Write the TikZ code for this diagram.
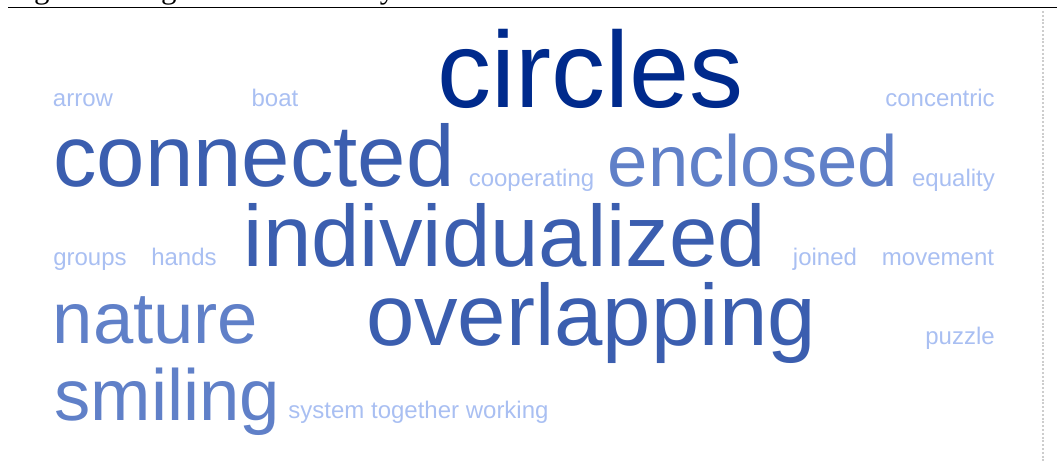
\documentclass[tikz,border=0pt]{standalone}
\usepackage{fontspec}
\setmainfont{Liberation Sans}
\newfontfamily\capfont{Liberation Serif}
\definecolor{cDark}{RGB}{0,42,140}
\definecolor{cMid}{RGB}{59,94,175}
\definecolor{cLight}{RGB}{96,128,200}
\definecolor{cPale}{RGB}{169,191,242}
\definecolor{cDot}{RGB}{205,205,205}
\tikzset{
  word/.style={inner sep=0pt, outer sep=0pt, anchor=base},
  wxl/.style={word, text=cDark, font=\fontsize{108}{108}\selectfont},
  wl/.style={word, text=cMid, font=\fontsize{87}{87}\selectfont},
  wm/.style={word, text=cLight, font=\fontsize{72.5}{72.5}\selectfont},
  ws/.style={word, text=cPale, font=\fontsize{24}{24}\selectfont},
}
\begin{document}
\begin{tikzpicture}[x=1pt,y=-1pt]
\useasboundingbox (0,0) rectangle (1057,461);
\clip (0,0) rectangle (1057,461);
% caption (cut off at top) and rule
\node[inner sep=0pt, anchor=base west, font=\capfont\fontsize{31}{31}\selectfont] (caption) at (8,-2) {Figure 3. Tag Cloud of Weekly Selected Codes};
\coordinate (ruleL) at (8,7.5);
\coordinate (ruleR) at (1057,7.5);
\draw[line width=1.4pt] (ruleL) -- (ruleR);
% dotted frame edge
\coordinate (dotT) at (1043,11);
\coordinate (dotB) at (1043,461);
\draw[cDot, line width=2pt, dash pattern=on 2pt off 1.8pt] (dotT) -- (dotB);
% row 1
\node[ws] (arrow) at (83,106) {arrow};
\node[ws] (boat) at (275,106) {boat};
\node[wxl] (circles) at (590.5,107) {circles};
\node[ws] (concentric) at (940,106) {concentric};
% row 2
\node[wl] (connected) at (254,186) {connected};
\node[ws] (cooperating) at (531.5,186) {cooperating};
\node[wm] (enclosed) at (753,186) {enclosed};
\node[ws] (equality) at (953.5,186) {equality};
% row 3
\node[ws] (groups) at (90,265) {groups};
\node[ws] (hands) at (184,265) {hands};
\node[wl] (individualized) at (505,266) {individualized};
\node[ws] (joined) at (825,265) {joined};
\node[ws] (movement) at (938,265) {movement};
% row 4
\node[wm] (nature) at (155.5,343) {nature};
\node[wl] (overlapping) at (591,345) {overlapping};
\node[ws] (puzzle) at (960,344) {puzzle};
% row 5
\node[wm] (smiling) at (167.5,420) {smiling};
\node[ws] (system) at (418.5,418) {system together working};
\end{tikzpicture}
\end{document}
